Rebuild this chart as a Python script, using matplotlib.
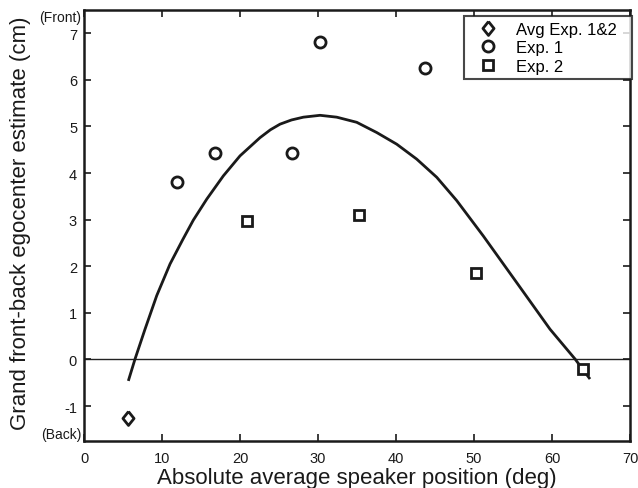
import matplotlib
matplotlib.use("Agg")
import matplotlib.pyplot as plt

plt.rcParams['font.family'] = ['Liberation Sans', 'DejaVu Sans']
plt.rcParams['axes.unicode_minus'] = False

# Average of both experiments
avg_x = [5.7]
avg_y = [-1.26]

# Experiment 1
exp1_x = [11.9, 16.8, 26.7, 30.3, 43.7]
exp1_y = [3.81, 4.44, 4.44, 6.82, 6.25]

# Experiment 2
exp2_x = [20.9, 35.2, 50.2, 64.0]
exp2_y = [2.97, 3.09, 1.85, -0.21]

# fitted curve
fit_x = [5.68, 6.54, 7.82, 9.32, 11.03, 12.65, 14.01, 15.73, 17.86, 20.0, 22.56,
         23.9, 25.13, 26.6, 28.12, 30.26, 32.40, 34.96, 37.53, 40.09, 42.65, 45.22,
         47.78, 51.19, 55.47, 59.74, 62.95, 64.87]
fit_y = [-0.46, 0.01, 0.65, 1.37, 2.05, 2.57, 2.99, 3.44, 3.94, 4.37, 4.76,
         4.93, 5.05, 5.14, 5.20, 5.24, 5.20, 5.09, 4.87, 4.62, 4.30, 3.91,
         3.41, 2.65, 1.65, 0.65, 0.01, -0.42]

x_ticks = [0, 10, 20, 30, 40, 50, 60, 70]
y_ticks = [-1, 0, 1, 2, 3, 4, 5, 6, 7]

ink = '#1a1a1a'
diamond = [(0, 1), (0.8, 0), (0, -1), (-0.8, 0), (0, 1)]

fig = plt.figure(figsize=(6.38, 4.89), dpi=100)
ax = fig.add_axes([0.1317, 0.0961, 0.8558, 0.8814])

ax.axhline(0, color='#222222', linewidth=1.0, zorder=1)
ax.plot(fit_x, fit_y, color=ink, linewidth=2.0, zorder=2,
        solid_joinstyle='round', solid_capstyle='butt')

ax.plot(avg_x, avg_y, linestyle='none', marker=diamond, markersize=10,
        markerfacecolor='white', markeredgecolor=ink, markeredgewidth=2.0,
        label='Avg Exp. 1&2', zorder=3)
ax.plot(exp1_x, exp1_y, linestyle='none', marker='o', markersize=8,
        markerfacecolor='white', markeredgecolor=ink, markeredgewidth=2.0,
        label='Exp. 1', zorder=3)
ax.plot(exp2_x, exp2_y, linestyle='none', marker='s', markersize=6.5,
        markerfacecolor='white', markeredgecolor=ink, markeredgewidth=2.0,
        label='Exp. 2', zorder=3)

ax.set_xlim(0, 70)
ax.set_ylim(-1.75, 7.5)
ax.set_xticks(x_ticks)
ax.set_yticks(y_ticks)
ax.tick_params(direction='in', length=5, width=1.2, top=True, right=True,
               labelsize=10.5, colors=ink, pad=5)
ax.tick_params(axis='x', pad=7)
for sp in ax.spines.values():
    sp.set_linewidth(1.8)
    sp.set_color(ink)

ax.set_xlabel('Absolute average speaker position (deg)', fontsize=16, color=ink)
ax.set_ylabel('Grand front-back egocenter estimate (cm)', fontsize=16, color=ink)
ax.xaxis.set_label_coords(0.5, -0.06)
ax.yaxis.set_label_coords(-0.097, 0.508)

ax.text(-0.005, 1.0, '(Front)', transform=ax.transAxes, ha='right', va='top',
        fontsize=10, color=ink)
ax.text(-0.005, 0.0, '(Back)', transform=ax.transAxes, ha='right', va='bottom',
        fontsize=10, color=ink)

leg = ax.legend(loc='upper right', bbox_to_anchor=(1.004, 0.986), fontsize=12,
                frameon=True, fancybox=False, edgecolor=ink, borderpad=0.35,
                labelspacing=0.2, handletextpad=0.6, handlelength=2.2,
                borderaxespad=0)
leg.get_frame().set_linewidth(1.5)
for t in leg.get_texts():
    t.set_text(t.get_text() + '  ')

fig.savefig('out.png', dpi=100)
